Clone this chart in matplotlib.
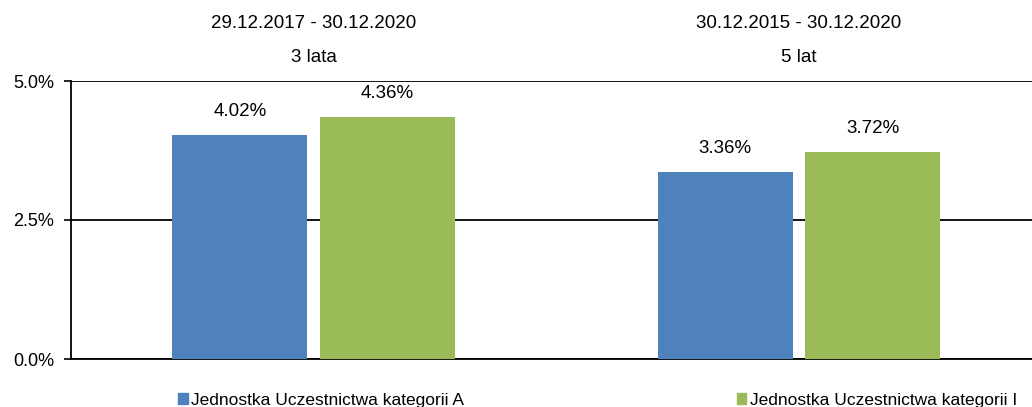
import matplotlib.pyplot as plt
import numpy as np
from matplotlib.patches import Patch

plt.rcParams['font.family'] = ['Liberation Sans', 'DejaVu Sans']

# data
periods = ["29.12.2017 - 30.12.2020", "30.12.2015 - 30.12.2020"]
period_names = ["3 lata", "5 lat"]
series_names = ["Jednostka Uczestnictwa kategorii A", "Jednostka Uczestnictwa kategorii I"]
kat_A = [4.02, 3.36]
kat_I = [4.36, 3.72]
y_ticks = [0.0, 2.5, 5.0]

blue = "#4F81BD"
green = "#9BBB59"

fig = plt.figure(figsize=(10.32, 4.07), dpi=100)
ax = fig.add_axes([71/1032, 1-359/407, 1-71/1032, (359-81)/407])

x = np.arange(len(periods))
w = 0.278
off = 0.152
b1 = ax.bar(x - off, kat_A, w, color=blue, zorder=3)
b2 = ax.bar(x + off, kat_I, w, color=green, zorder=3)

for bars, vals in ((b1, kat_A), (b2, kat_I)):
    for b, v in zip(bars, vals):
        ax.annotate("%.2f%%" % v, (b.get_x() + b.get_width()/2, v),
                    xytext=(0, 15), textcoords="offset pixels",
                    ha="center", va="bottom", fontsize=13.5)

ax.set_xlim(-0.5, 1.48)
ax.set_ylim(0, 5.0)
ax.set_yticks(y_ticks)
ax.set_yticklabels(["%.1f%%" % t for t in y_ticks], fontsize=13)
ax.tick_params(axis="y", length=5, width=1.2, pad=7, color="black")
ax.set_xticks([])
ax.grid(axis="y", color="black", linewidth=1.3, zorder=1)
for s in ["top", "right"]:
    ax.spines[s].set_visible(False)
ax.spines["left"].set_linewidth(1.3)
ax.spines["bottom"].set_linewidth(1.3)

# period labels above the plot
tr = ax.get_xaxis_transform()
for i in range(len(periods)):
    ax.text(x[i], (359-23)/278, periods[i], transform=tr, ha="center", va="center", fontsize=13.5)
    ax.text(x[i], (359-58)/278, period_names[i], transform=tr, ha="center", va="center", fontsize=13.5)

handles = [Patch(color=blue), Patch(color=green)]
fig.legend(handles, series_names, loc="center left", ncol=2,
           bbox_to_anchor=(178/1032, 1-400/407), frameon=False, borderpad=0,
           borderaxespad=0, fontsize=12.5, handlelength=0.55, handleheight=0.55,
           handletextpad=0.2, columnspacing=15.7)

fig.savefig("out.png", dpi=100)
